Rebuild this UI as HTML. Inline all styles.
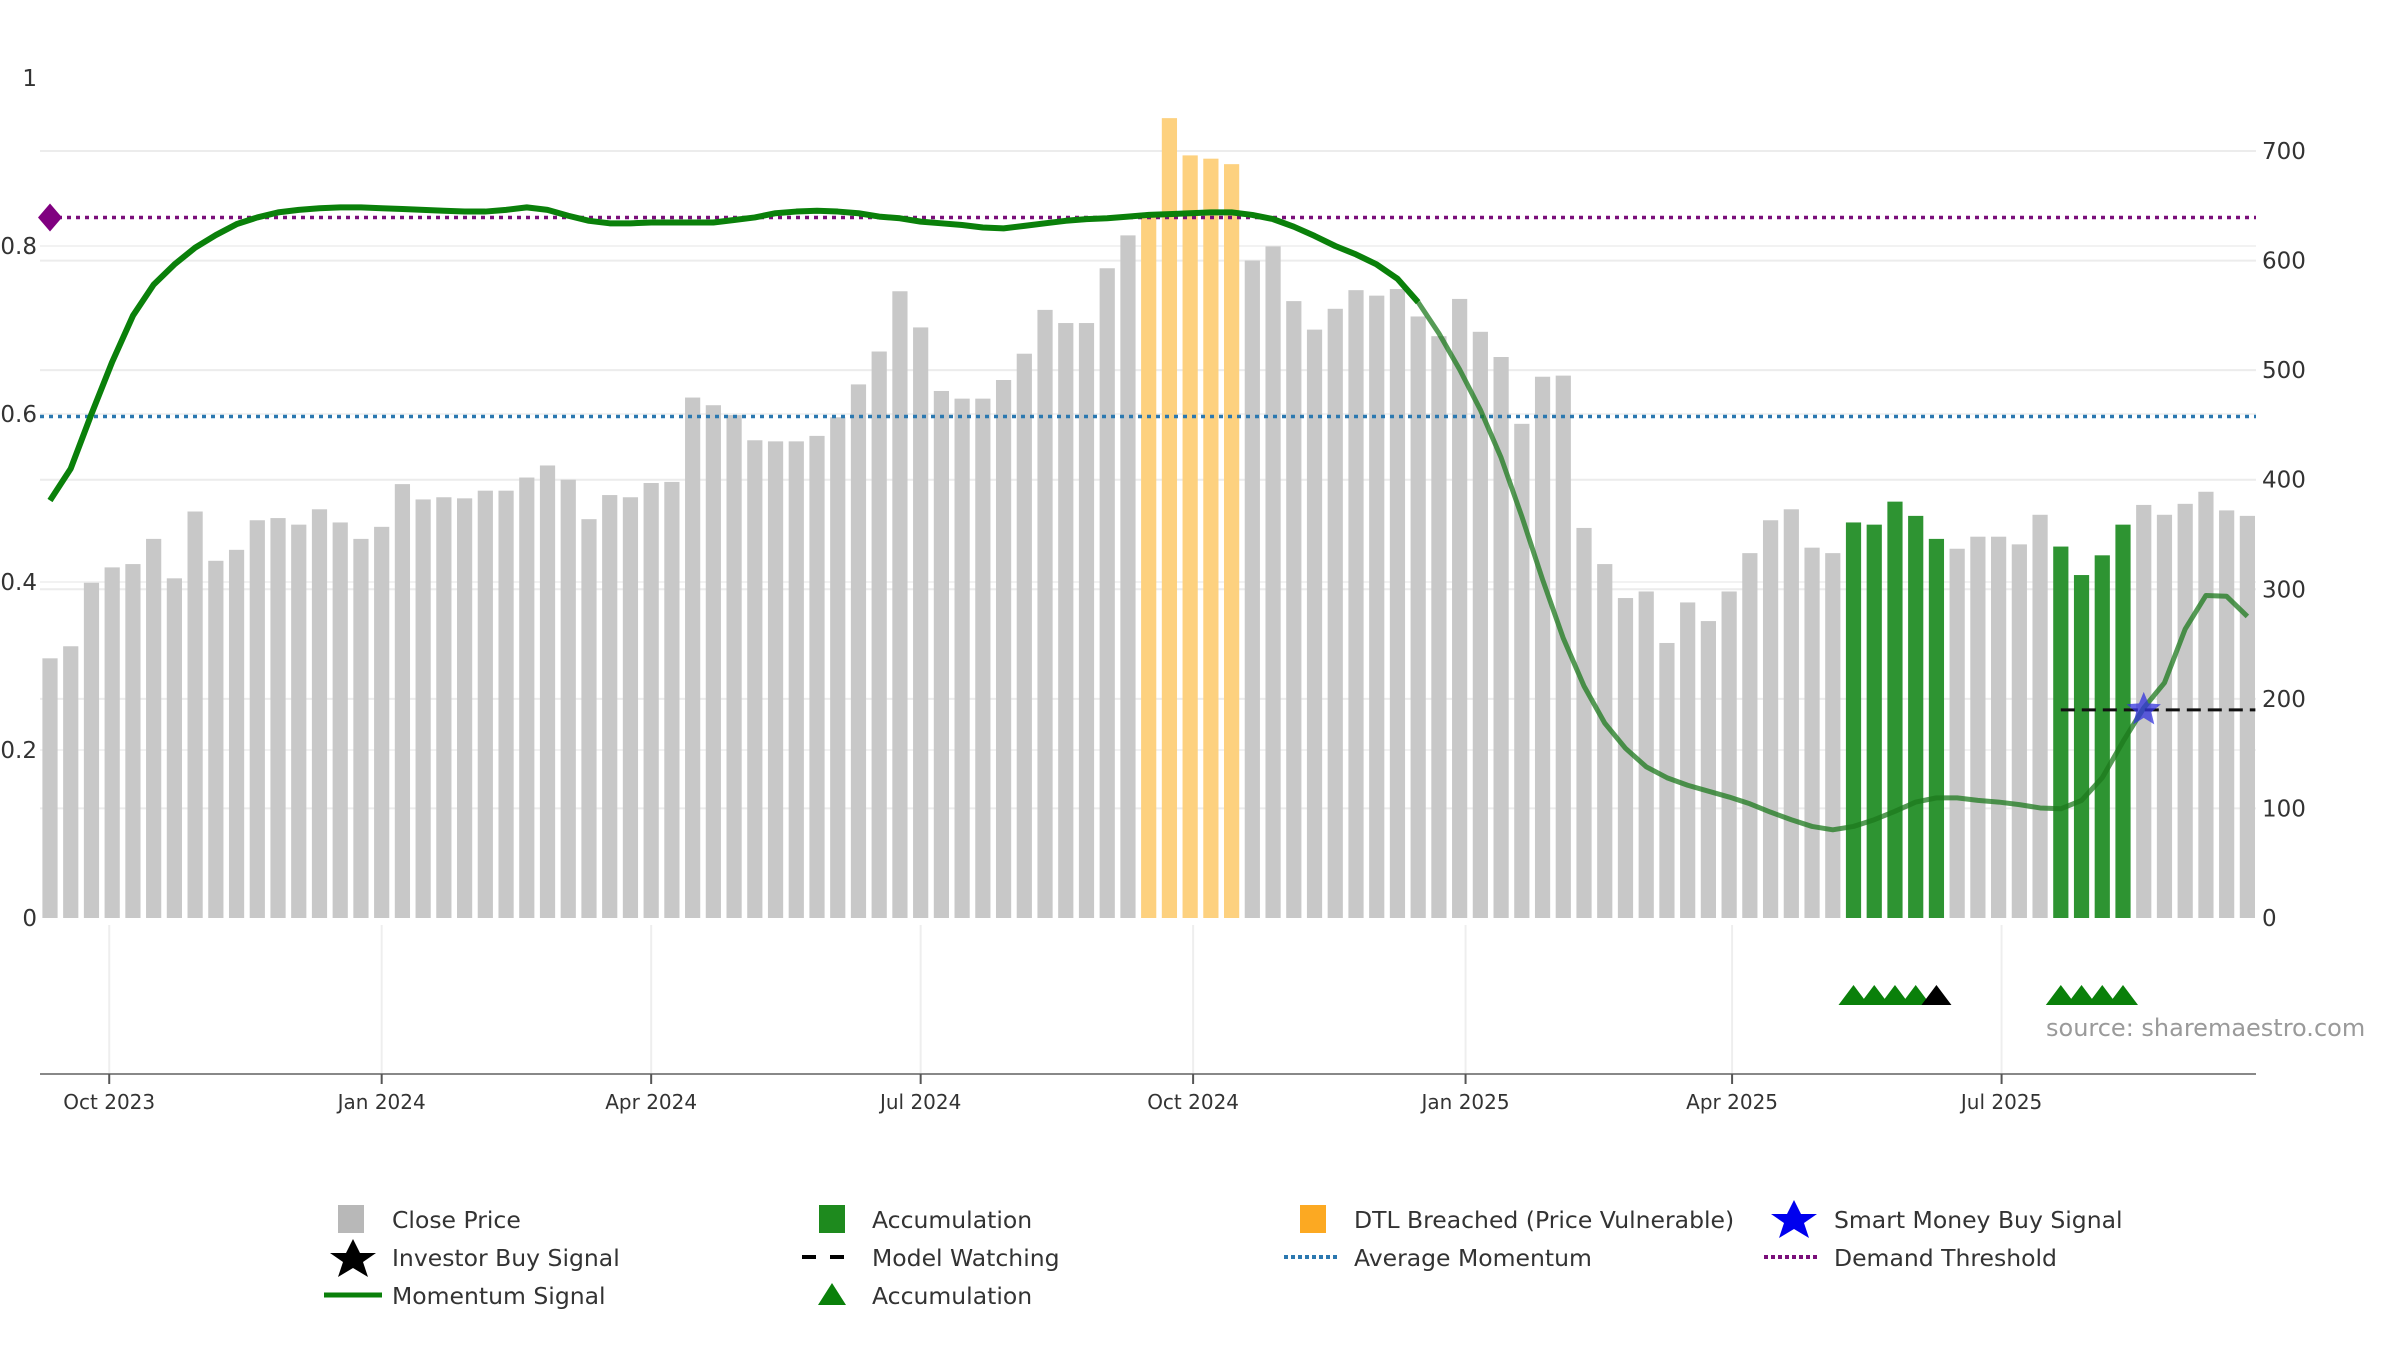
<!DOCTYPE html>
<html><head><meta charset="utf-8">
<style>
html,body{margin:0;padding:0;background:#fff;}
svg{display:block;font-family:"DejaVu Sans","Liberation Sans",sans-serif;}
</style></head>
<body>
<svg id="chart" width="2400" height="1350" viewBox="0 0 2400 1350" xmlns="http://www.w3.org/2000/svg">
<g id="grid"></g>
<g id="bars"></g>
<g id="lines"></g>
<g id="markers"></g>
<g id="axes"></g>
<text x="2046" y="1036" font-size="24" fill="#9a9a9a">source: sharemaestro.com</text>
<g font-size="23.5" fill="#333" transform="translate(0,-5)">
<g><rect x="338" y="1210" width="26" height="28" fill="#b8b8b8"/><text x="392" y="1233">Close Price</text></g>
<g><rect x="819" y="1210" width="26" height="28" fill="#1e8a1e"/><text x="872" y="1233">Accumulation</text></g>
<g><rect x="1300" y="1210" width="26" height="28" fill="#fca922"/><text x="1354" y="1233">DTL Breached (Price Vulnerable)</text></g>
<g><path d="M1794 1205 L1801 1219 L1817 1219 L1804 1228 L1809 1243 L1794 1234 L1779 1243 L1784 1228 L1771 1219 L1787 1219Z" fill="#0000ee"/><text x="1834" y="1233">Smart Money Buy Signal</text></g>
<g><path d="M353 1244 L360 1258 L376 1258 L363 1267 L368 1282 L353 1273 L338 1282 L343 1267 L330 1258 L346 1258Z" fill="#000"/><text x="392" y="1271">Investor Buy Signal</text></g>
<g><line x1="802" y1="1262" x2="858" y2="1262" stroke="#000" stroke-width="4" stroke-dasharray="14 14"/><text x="872" y="1271">Model Watching</text></g>
<g><line x1="1284" y1="1262" x2="1340" y2="1262" stroke="#2b78b0" stroke-width="4" stroke-dasharray="4 3"/><text x="1354" y="1271">Average Momentum</text></g>
<g><line x1="1764" y1="1262" x2="1820" y2="1262" stroke="#7a0f7a" stroke-width="4" stroke-dasharray="4 3"/><text x="1834" y="1271">Demand Threshold</text></g>
<g><line x1="324" y1="1300" x2="382" y2="1300" stroke="#0a800a" stroke-width="5"/><text x="392" y="1309">Momentum Signal</text></g>
<g><path d="M818 1310 L832 1288 L846 1310Z" fill="#0a800a"/><text x="872" y="1309">Accumulation</text></g>
</g>
</svg>
<script>
const startDate = "2023-09-11";
const prices = [237,248,306,320,323,346,310,371,326,336,363,365,359,373,361,346,357,396,382,384,383,390,390,402,413,400,364,386,384,397,398,475,468,459,436,435,435,440,457,487,517,572,539,481,474,474,491,515,555,543,543,593,623,640,730,696,693,688,600,613,563,537,556,573,568,574,549,531,565,535,512,451,494,495,356,323,292,298,251,288,271,298,333,363,373,338,333,361,359,380,367,346,337,348,348,341,368,339,313,331,359,377,368,378,389,372,367];
const barTypes = "nnnnnnnnnnnnnnnnnnnnnnnnnnnnnnnnnnnnnnnnnnnnnnnnnnnnndddddnnnnnnnnnnnnnnnnnnnnnnnnnnnnnaaaaannnnnaaaannnnnn".split("");
const momentum = [0.497,0.535,0.600,0.662,0.717,0.754,0.778,0.798,0.813,0.826,0.834,0.840,0.843,0.845,0.846,0.846,0.845,0.844,0.843,0.842,0.841,0.841,0.843,0.846,0.843,0.836,0.830,0.827,0.827,0.828,0.828,0.828,0.828,0.831,0.834,0.839,0.841,0.842,0.841,0.839,0.835,0.833,0.829,0.827,0.825,0.822,0.821,0.824,0.827,0.830,0.832,0.833,0.835,0.837,0.838,0.839,0.840,0.840,0.837,0.832,0.823,0.812,0.800,0.790,0.778,0.761,0.733,0.696,0.653,0.605,0.548,0.478,0.403,0.333,0.276,0.232,0.202,0.180,0.167,0.158,0.151,0.144,0.136,0.126,0.117,0.109,0.105,0.109,0.117,0.127,0.138,0.143,0.143,0.140,0.138,0.135,0.131,0.130,0.140,0.167,0.210,0.250,0.280,0.344,0.384,0.383,0.359];
const demandThreshold = 0.834;
const avgMomentum = 0.597;
const watchLevel = 190;
const watchStart = 97, watchEnd = 106;
const starIndex = 101;
const greenTriangles = [87,88,89,90,97,98,99,100];
const blackTriangles = [91];
const xTicks = ["2023-10-01","2024-01-01","2024-04-01","2024-07-01","2024-10-01","2025-01-01","2025-04-01","2025-07-01"];
const xTickLabels = ["Oct 2023","Jan 2024","Apr 2024","Jul 2024","Oct 2024","Jan 2025","Apr 2025","Jul 2025"];
const leftTicks = [0,0.2,0.4,0.6,0.8,1];
const leftTickLabels = ["0","0.2","0.4","0.6","0.8","1"];
const rightTicks = [0,100,200,300,400,500,600,700];

const NS="http://www.w3.org/2000/svg";
const X0=50, STEP=20.73, Y0=918, AXY=1074;
const xi = i => X0 + i*STEP;
const xd = d => X0 + (new Date(d)-new Date(startDate))/86400000/7*STEP;
const yR = v => Y0 - v*1.0957;
const yL = v => Y0 - v*840;
function mk(tag, attrs, parent){const e=document.createElementNS(NS,tag);for(const k in attrs)e.setAttribute(k,attrs[k]);parent.appendChild(e);return e;}
const G=id=>document.getElementById(id);

rightTicks.slice(1).forEach(v=>{const l=mk('line',{x1:40,x2:2256,y1:yR(v),y2:yR(v),stroke:'#ececec','stroke-width':2},G('grid'));

});
leftTicks.slice(1,5).forEach(v=>{const l=mk('line',{x1:40,x2:2256,y1:yL(v),y2:yL(v),stroke:'#f2f2f2','stroke-width':2},G('grid'));

});
xTicks.forEach(d=>{const l=mk('line',{x1:xd(d),x2:xd(d),y1:925,y2:AXY,stroke:'#eeeeee','stroke-width':2},G('grid'));

});

const colors={n:'#c8c8c8',d:'#fdd17f',a:'#2e9432'};
prices.forEach((v,i)=>{const r=mk('rect',{x:xi(i)-7.6,y:yR(v),width:15.2,height:Y0-yR(v),fill:colors[barTypes[i]]},G('bars'));

});

let l1=mk('line',{x1:40,x2:2256,y1:yL(demandThreshold),y2:yL(demandThreshold),stroke:'#7a0f7a','stroke-width':3.5,'stroke-dasharray':'4 5'},G('lines'));


let l2=mk('line',{x1:40,x2:2256,y1:yL(avgMomentum),y2:yL(avgMomentum),stroke:'#2b78b0','stroke-width':3.5,'stroke-dasharray':'4 5'},G('lines'));



const split=66;
let p1=momentum.slice(0,split+1).map((v,i)=>xi(i)+','+yL(v)).join(' ');
let p2=momentum.slice(split).map((v,i)=>xi(i+split)+','+yL(v)).join(' ');
let m1=mk('polyline',{points:p1,fill:'none',stroke:'#0a800a','stroke-width':6,'stroke-linejoin':'round'},G('lines'));


let m2=mk('polyline',{points:p2,fill:'none',stroke:'#1e7a1e','stroke-width':5,'stroke-opacity':0.75,'stroke-linejoin':'round'},G('lines'));



let mw=mk('line',{x1:xi(watchStart),x2:xi(watchEnd)+8,y1:yR(watchLevel),y2:yR(watchLevel),stroke:'#111','stroke-width':3,'stroke-dasharray':'14 7'},G('markers'));



let dm=mk('path',{d:`M${X0} ${yL(demandThreshold)-14} l12 14 l-12 14 l-12 -14z`,fill:'#800080'},G('markers'));



function starPath(cx,cy,R,r){let s='';for(let k=0;k<10;k++){const a=-Math.PI/2+k*Math.PI/5,rr=k%2?r:R;s+=(k?'L':'M')+(cx+rr*Math.cos(a))+' '+(cy+rr*Math.sin(a));}return s+'Z';}
let st=mk('path',{d:starPath(xi(starIndex),yR(watchLevel),18,8),fill:'#3333dd','fill-opacity':0.75},G('markers'));



function tri(i,col){const x=xi(i),y=1005;return mk('path',{d:`M${x-15} ${y} L${x} ${y-20} L${x+15} ${y}Z`,fill:col},G('markers'));}
greenTriangles.forEach(i=>{const t=tri(i,'#0a800a');

});
blackTriangles.forEach(i=>{const t=tri(i,'#000');

});

let ax=mk('line',{x1:40,x2:2256,y1:AXY,y2:AXY,stroke:'#888','stroke-width':2},G('axes'));


xTicks.forEach((d,i)=>{
 const t=mk('line',{x1:xd(d),x2:xd(d),y1:AXY,y2:AXY+10,stroke:'#555','stroke-width':2},G('axes'));
 
 
 const tx=mk('text',{x:xd(d),y:1109,'text-anchor':'middle','font-size':20,fill:'#333'},G('axes'));
 tx.textContent=xTickLabels[i];
 
 
});
leftTicks.forEach((v,i)=>{
 const tx=mk('text',{x:37,y:yL(v)+8,'text-anchor':'end','font-size':23,fill:'#333'},G('axes'));
 tx.textContent=leftTickLabels[i];
 
 
});
rightTicks.forEach(v=>{
 const tx=mk('text',{x:2262,y:yR(v)+8,'font-size':23,fill:'#333'},G('axes'));
 tx.textContent=String(v);
 
 
});
</script>
</body></html>
